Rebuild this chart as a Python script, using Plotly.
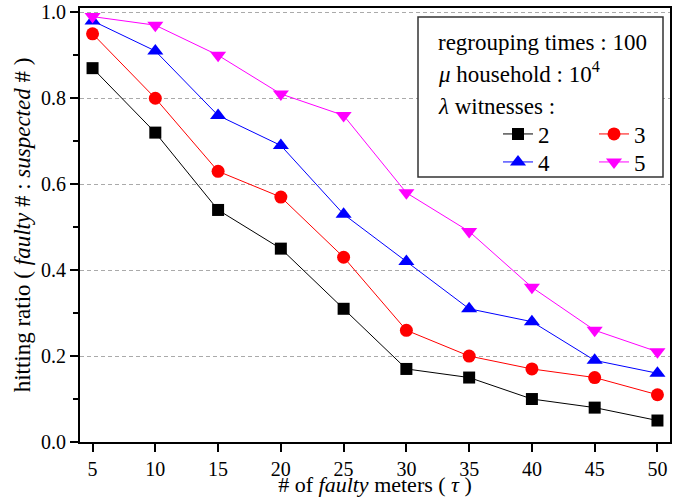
import plotly.graph_objects as go

faulty = [5, 10, 15, 20, 25, 30, 35, 40, 45, 50]
w2 = [0.87, 0.72, 0.54, 0.45, 0.31, 0.17, 0.15, 0.10, 0.08, 0.05]
w3 = [0.95, 0.80, 0.63, 0.57, 0.43, 0.26, 0.20, 0.17, 0.15, 0.11]
w4 = [0.98, 0.91, 0.76, 0.69, 0.53, 0.42, 0.31, 0.28, 0.19, 0.16]
w5 = [0.99, 0.97, 0.90, 0.81, 0.76, 0.58, 0.49, 0.36, 0.26, 0.21]
x_ticks = [5, 10, 15, 20, 25, 30, 35, 40, 45, 50]
y_ticks = [0.0, 0.2, 0.4, 0.6, 0.8, 1.0]

FONT = "Liberation Serif"

series = [
    ("2", w2, "black", "square", 12, "legend"),
    ("3", w3, "red", "circle", 13, "legend2"),
    ("4", w4, "blue", "triangle-up", 14, "legend3"),
    ("5", w5, "magenta", "triangle-down", 14, "legend4"),
]

fig = go.Figure()
for name, vals, col, sym, sz, leg in series:
    fig.add_trace(go.Scatter(
        x=faulty, y=vals, name=name, mode="lines+markers",
        line=dict(color=col, width=1),
        marker=dict(symbol=sym, size=sz, color=col),
        legend=leg,
    ))

W, H = 681, 497
ml, mr, mt, mb = 80, 11, 8, 55
pw, ph = W - ml - mr, H - mt - mb

def px(x):
    return (x - ml) / pw

def py(y):
    return 1 - (y - mt) / ph

leg_common = dict(
    orientation="h", xanchor="left", yanchor="middle",
    font=dict(family=FONT, size=23, color="black"),
    bgcolor="rgba(0,0,0,0)",
)

fig.update_layout(
    width=W, height=H,
    margin=dict(l=ml, r=mr, t=mt, b=mb),
    paper_bgcolor="white", plot_bgcolor="white",
    font=dict(family=FONT, size=20, color="black"),
    showlegend=True,
    legend=dict(x=px(498), y=py(134), **leg_common),
    legend2=dict(x=px(594), y=py(134), **leg_common),
    legend3=dict(x=px(498), y=py(162), **leg_common),
    legend4=dict(x=px(594), y=py(162), **leg_common),
    xaxis=dict(
        range=[4, 51], tickvals=x_ticks, ticks="outside", ticklen=8, tickwidth=2,
        tickcolor="black", showline=True, linewidth=2, linecolor="black", mirror=True,
        showgrid=False, zeroline=False, automargin=False,
        tickfont=dict(family=FONT, size=20),
        title=dict(text="# of <i>faulty</i> meters ( <i>τ</i> )", font=dict(family=FONT, size=22), standoff=0),
    ),
    yaxis=dict(
        range=[0, 1.01], tickvals=y_ticks, tickformat=".1f", ticks="outside", ticklen=8, tickwidth=2,
        tickcolor="black", showline=True, linewidth=2, linecolor="black", mirror=True,
        showgrid=True, gridcolor="#aaaaaa", griddash="4px,3px", gridwidth=1, zeroline=False,
        automargin=False,
        minor=dict(dtick=0.1, ticks="outside", ticklen=5, tickwidth=2, tickcolor="black", showgrid=False),
        tickfont=dict(family=FONT, size=20),
        title=dict(text="hitting ratio ( <i>faulty</i> # : <i>suspected</i> # )", font=dict(family=FONT, size=23), standoff=4),
    ),
    shapes=[dict(
        type="rect", xref="paper", yref="paper",
        x0=px(418), x1=px(663), y0=py(177), y1=py(17),
        fillcolor="white", line=dict(color="#333333", width=1.5), layer="above",
    )],
    annotations=[
        dict(text="regrouping times : 100", x=px(436), y=py(42)),
        dict(text="<i>μ</i> household : 10<sup>4</sup>", x=px(436), y=py(73)),
        dict(text="<i>λ</i> witnesses :", x=px(436), y=py(106)),
    ],
)
fig.update_annotations(xref="paper", yref="paper", xanchor="left", yanchor="middle",
                       showarrow=False, font=dict(family=FONT, size=23, color="black"))

fig.write_html("out.html", config={"displayModeBar": False},
               post_script="document.body.style.margin='0';")
